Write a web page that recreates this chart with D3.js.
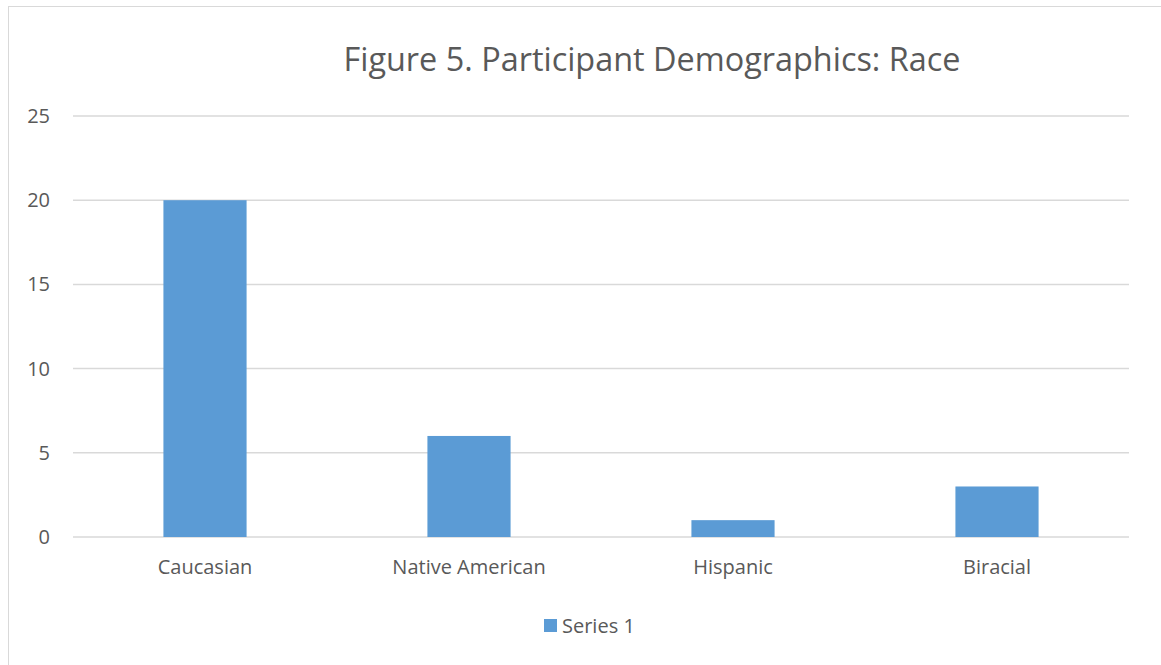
<!DOCTYPE html>
<html>
  <head>
    <meta charset="UTF-8">
    <title>Participant Demographics: Race</title>
    <style>
      body { margin: 0; background: #fff; }
      text { font-family: "Open Sans", "Noto Sans", sans-serif; fill: #595959; }
      .grid line { stroke: #d9d9d9; stroke-width: 1.5px; }
    </style>
    <script src="https://d3js.org/d3.v7.min.js"></script>
  </head>
  <body>
    <script>
      // Chart data
      var categories = ["Caucasian", "Native American", "Hispanic", "Biracial"];
      var values = [20, 6, 1, 3];
      var yTicks = [0, 5, 10, 15, 20, 25];
      var seriesName = "Series 1";
      var title = "Figure 5. Participant Demographics: Race";

      var width = 1161, height = 665;
      var plot = {left: 73, right: 1129, top: 116, bottom: 537};
      var barColor = "#5b9bd5";

      var svg = d3.select("body").append("svg")
          .attr("width", width)
          .attr("height", height);

      // chart area frame (only top and left edge are visible in the picture)
      svg.append("rect")
          .attr("x", 8.5).attr("y", 6.5)
          .attr("width", width + 10).attr("height", height + 10)
          .attr("fill", "#fff")
          .attr("stroke", "#d9d9d9")
          .attr("stroke-width", 1);

      var x = d3.scaleBand()
          .domain(categories)
          .range([plot.left, plot.right])
          .paddingInner(0.685)
          .paddingOuter(0.3425);

      var y = d3.scaleLinear()
          .domain([0, 25])
          .range([plot.bottom, plot.top]);

      // gridlines
      svg.append("g")
          .attr("class", "grid")
          .selectAll("line")
          .data(yTicks)
          .enter().append("line")
          .attr("x1", plot.left)
          .attr("x2", plot.right)
          .attr("y1", function(d) { return y(d); })
          .attr("y2", function(d) { return y(d); });

      // y axis labels
      var yAxis = d3.axisLeft(y).tickValues(yTicks).tickSize(0).tickPadding(0);
      var yg = svg.append("g")
          .attr("transform", "translate(" + 50 + ",0)")
          .call(yAxis);
      yg.select(".domain").remove();
      yg.selectAll("text")
          .style("font-size", "20px")
          .attr("fill", "#595959");

      // bars
      svg.selectAll(".bar")
          .data(values)
          .enter().append("rect")
          .attr("class", "bar")
          .attr("x", function(d, i) { return x(categories[i]); })
          .attr("width", x.bandwidth())
          .attr("y", function(d) { return y(d); })
          .attr("height", function(d) { return y(0) - y(d); })
          .attr("fill", barColor);

      // x axis labels
      var xAxis = d3.axisBottom(x).tickSize(0).tickPadding(0);
      var xg = svg.append("g")
          .attr("transform", "translate(0," + 560 + ")")
          .call(xAxis);
      xg.select(".domain").remove();
      xg.selectAll("text")
          .style("font-size", "20px")
          .attr("fill", "#595959");

      // title
      var t = svg.append("text")
          .attr("x", 652)
          .attr("y", 71)
          .attr("text-anchor", "middle")
          .style("font-size", "32.5px")
          .text(title);
      // squeeze to match the reference's width
      var tw = t.node().getComputedTextLength();
      if (tw > 617) t.attr("textLength", 617).attr("lengthAdjust", "spacingAndGlyphs");

      // legend
      svg.append("rect")
          .attr("x", 544).attr("y", 619)
          .attr("width", 13).attr("height", 13)
          .attr("fill", barColor);
      svg.append("text")
          .attr("x", 562)
          .attr("y", 633)
          .style("font-size", "20px")
          .text(seriesName);
    </script>
  </body>
</html>
